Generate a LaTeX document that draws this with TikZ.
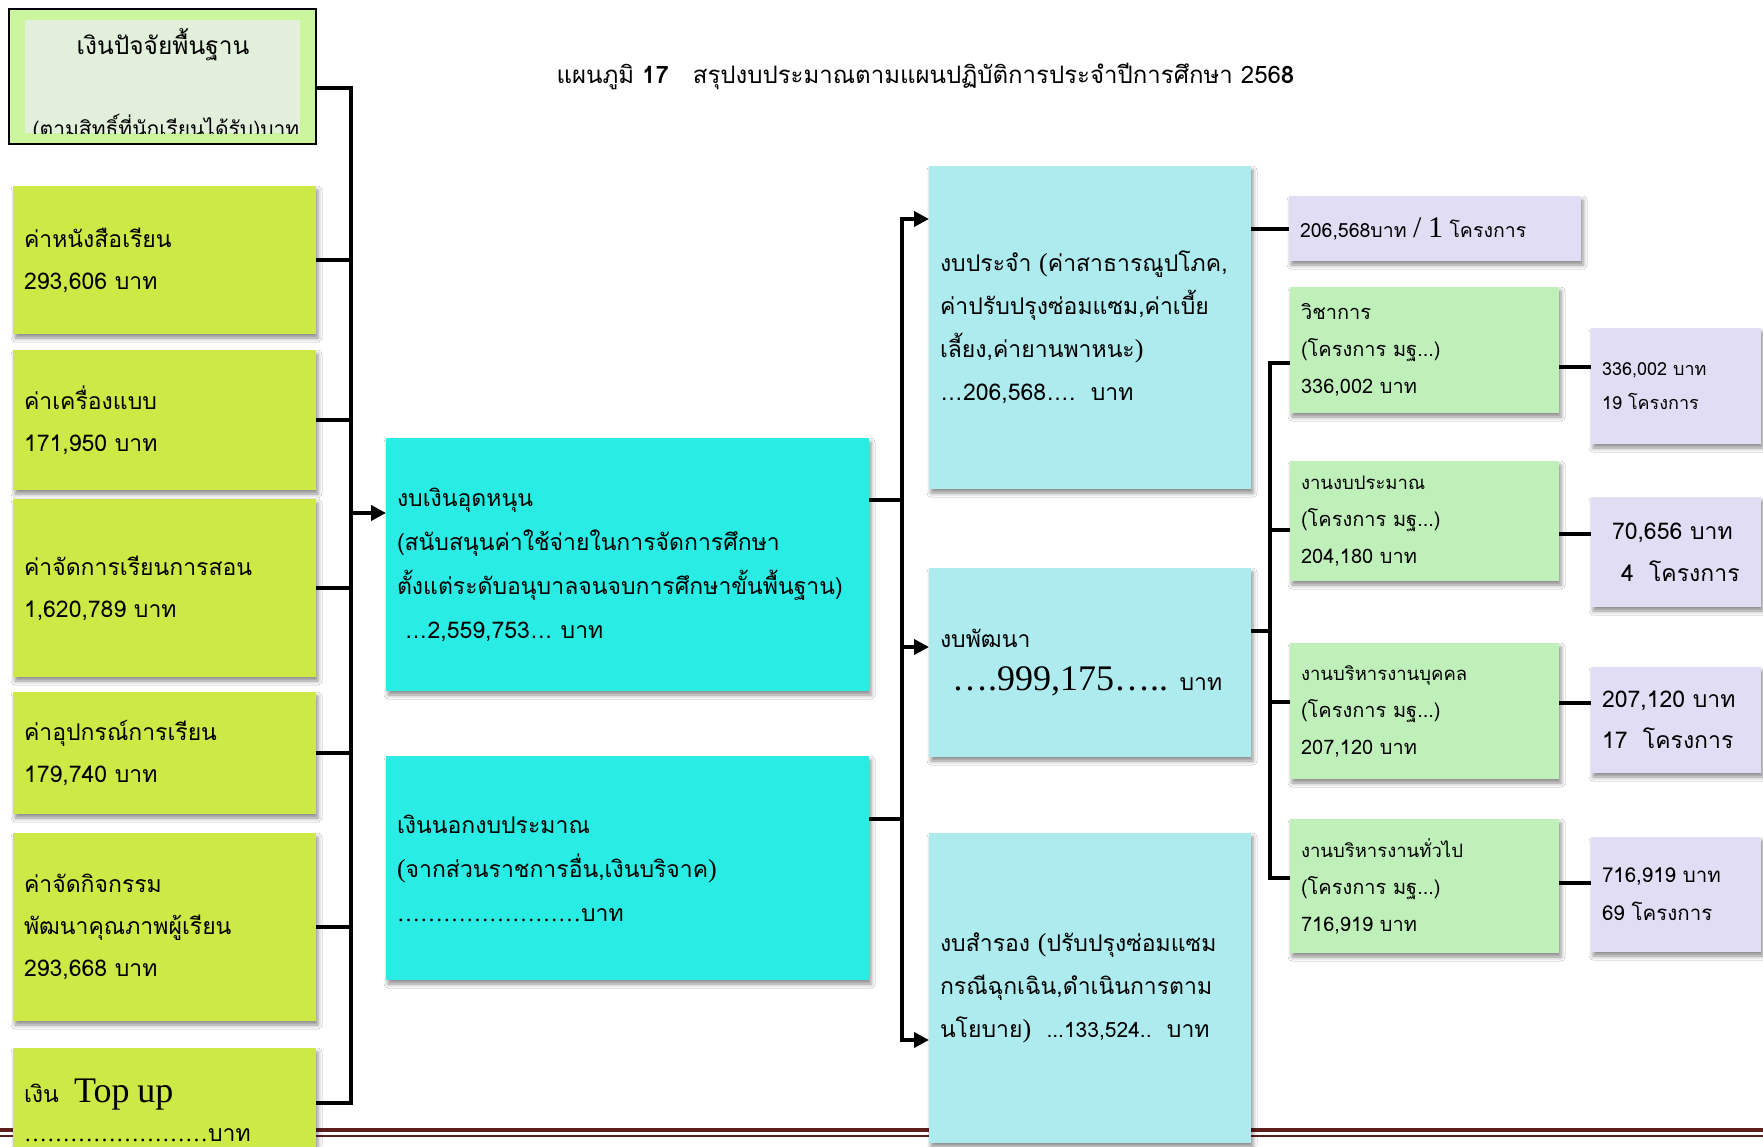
\documentclass[tikz,border=0pt]{standalone}
\usepackage{fontspec}
\setmainfont{Loma}[Script=Thai]
\newfontfamily\serif{Liberation Serif}
\newfontfamily\lsans{Liberation Sans}
\usetikzlibrary{arrows.meta,shadows.blur}
\definecolor{lime}{RGB}{205,233,70}
\definecolor{topouter}{RGB}{204,246,158}
\definecolor{topinner}{RGB}{226,239,218}
\definecolor{cyanA}{RGB}{41,237,228}
\definecolor{cyanB}{RGB}{173,235,238}
\definecolor{greenB}{RGB}{192,240,185}
\definecolor{purpB}{RGB}{225,221,244}
\definecolor{maroonL}{RGB}{94,30,30}
\tikzset{
  box/.style={rectangle, anchor=north west, inner xsep=11pt, inner ysep=0pt,
    outer sep=0pt, align=left,
    blur shadow={shadow xshift=2pt, shadow yshift=-4pt, shadow blur radius=4pt, shadow opacity=45}},
  lbox/.style={box, fill=lime, font=\fontsize{23}{42}\selectfont},
  cbox/.style={box, fill=cyanA, font=\fontsize{23}{44}\selectfont},
  rbox/.style={box, fill=cyanB, font=\fontsize{23}{43}\selectfont},
  gbox/.style={box, fill=greenB, font=\fontsize{20}{37}\selectfont},
  pbox/.style={box, fill=purpB},
  con/.style={line width=4pt, black},
  arr/.style={con, -{Triangle[length=15pt,width=15pt]}},
}
\begin{document}
\begin{tikzpicture}[x=1pt,y=-1pt]
\useasboundingbox (0,0) rectangle (1763,1146);
\fill[white] (0,0) rectangle (1763,1146);
% bottom rule
\draw[maroonL, line width=4.5pt] (0,1130) -- (1763,1130);
\draw[maroonL, line width=1.5pt] (0,1136) -- (1763,1136);
% title
\node[anchor=west, font=\fontsize{24}{28}\selectfont] (title) at (553,76)
  {แผนภูมิ \textbf{17}\hspace{24pt}สรุปงบประมาณตามแผนปฏิบัติการประจำปีการศึกษา 256\textbf{8}};
% top box
\node[rectangle, anchor=north west, draw=black, line width=2pt, fill=topouter,
  minimum width=307pt, minimum height=135pt, outer sep=0pt] (top) at (9,9) {};
\node[rectangle, anchor=north west, fill=topinner, inner sep=0pt,
  minimum width=275pt, minimum height=113pt, outer sep=0pt] (topin) at (25,20) {};
\node[font=\fontsize{24.5}{30}\selectfont] (topt1) at (163,45) {เงินปัจจัยพื้นฐาน};
\begin{scope}
\clip (25,20) rectangle (300,133);
\node[anchor=base, font=\fontsize{21}{26}\selectfont] (topt2) at (166,136) {(ตามสิทธิ์ที่นักเรียนได้รับ)บาท};
\end{scope}
% left column
\node[lbox, minimum width=303pt, minimum height=148pt, text width=281pt] (L1) at (13,186) {ค่าหนังสือเรียน\\293,606 บาท};
\node[lbox, minimum width=303pt, minimum height=140pt, text width=281pt] (L2) at (13,350) {ค่าเครื่องแบบ\\171,950 บาท};
\node[lbox, minimum width=303pt, minimum height=178pt, text width=281pt] (L3) at (13,499) {ค่าจัดการเรียนการสอน\\1,620,789 บาท};
\node[lbox, minimum width=303pt, minimum height=122pt, text width=281pt] (L4) at (13,692) {ค่าอุปกรณ์การเรียน\\179,740 บาท};
\node[lbox, minimum width=303pt, minimum height=188pt, text width=281pt] (L5) at (13,833) {ค่าจัดกิจกรรม\\พัฒนาคุณภาพผู้เรียน\\293,668 บาท};
\node[lbox, minimum width=303pt, minimum height=124pt, text width=281pt] (L6) at (13,1048) {เงิน\ \ {\serif\fontsize{36}{40}\selectfont Top up}\\[-3pt]{\serif\fontsize{23}{40}\selectfont ……………………}บาท};
% cyan boxes
\node[cbox, minimum width=483pt, minimum height=253pt, text width=461pt] (C1) at (386,438)
  {งบเงินอุดหนุน\\(สนับสนุนค่าใช้จ่ายในการจัดการศึกษา\\ตั้งแต่ระดับอนุบาลจนจบการศึกษาขั้นพื้นฐาน)\\\ {\lsans …}2,559,753{\lsans …} บาท};
\node[cbox, minimum width=483pt, minimum height=224pt, text width=461pt] (C2) at (386,756)
  {เงินนอกงบประมาณ\\{\serif\fontsize{26}{44}\selectfont (}จากส่วนราชการอื่น,เงินบริจาค{\serif\fontsize{26}{44}\selectfont )}\\{\serif\fontsize{23}{44}\selectfont ……………………}บาท};
% right light-cyan boxes
\node[rbox, minimum width=322pt, minimum height=323pt, text width=300pt] (R1) at (929,166)
  {\mbox{งบประจำ {\serif\fontsize{26}{43}\selectfont (}ค่าสาธารณูปโภค,}\\ค่าปรับปรุงซ่อมแซม,ค่าเบี้ย\\เลี้ยง,ค่ายานพาหนะ{\serif\fontsize{26}{43}\selectfont )}\\{\lsans …}206,568{\lsans …}.\ \ บาท};
\node[rbox, minimum width=322pt, minimum height=189pt, text width=300pt] (R2) at (929,568)
  {งบพัฒนา\\\hspace*{12pt}{\serif\fontsize{36}{44}\selectfont ….999,175…..} บาท};
\node[rbox, minimum width=322pt, minimum height=310pt, text width=300pt] (R3) at (929,833)
  {งบสำรอง {\serif\fontsize{26}{43}\selectfont (}ปรับปรุงซ่อมแซม\\กรณีฉุกเฉิน,ดำเนินการตาม\\\mbox{นโยบาย{\serif\fontsize{26}{43}\selectfont )}\ \ {\fontsize{21}{43}\selectfont ...133,524..}\ \ บาท}};
% purple top
\node[pbox, minimum width=292pt, minimum height=65pt, text width=270pt, font=\fontsize{19.5}{30}\selectfont] (P0) at (1289,196)
  {206,568บาท {\serif\fontsize{30}{30}\selectfont / 1} โครงการ};
% green boxes
\node[gbox, minimum width=269pt, minimum height=126pt, text width=247pt] (G1) at (1290,287) {วิชาการ\\(โครงการ มฐ...)\\336,002 บาท};
\node[gbox, minimum width=269pt, minimum height=120pt, text width=247pt] (G2) at (1290,461) {{\fontsize{18.5}{37}\selectfont งานงบประมาณ}\\(โครงการ มฐ...)\\204,180 บาท};
\node[gbox, minimum width=269pt, minimum height=136pt, text width=247pt] (G3) at (1290,643) {{\fontsize{18.5}{37}\selectfont งานบริหารงานบุคคล}\\(โครงการ มฐ...)\\207,120 บาท};
\node[gbox, minimum width=269pt, minimum height=134pt, text width=247pt] (G4) at (1290,819) {{\fontsize{18.5}{37}\selectfont งานบริหารงานทั่วไป}\\(โครงการ มฐ...)\\716,919 บาท};
% purple right boxes
\node[pbox, minimum width=170pt, minimum height=116pt, text width=148pt, font=\fontsize{18}{34}\selectfont] (Q1) at (1591,328) {336,002 บาท\\19 โครงการ};
\node[pbox, minimum width=170pt, minimum height=110pt, text width=148pt, font=\fontsize{23}{42}\selectfont] (Q2) at (1591,497) {\mbox{\hspace*{10pt}70,656 บาท}\\\mbox{\hspace*{19pt}4\ \ โครงการ}};
\node[pbox, minimum width=170pt, minimum height=106pt, text width=148pt, font=\fontsize{23}{41}\selectfont] (Q3) at (1591,667) {207,120 บาท\\17\ \ โครงการ};
\node[pbox, minimum width=170pt, minimum height=115pt, text width=148pt, font=\fontsize{20.5}{38}\selectfont] (Q4) at (1591,837) {716,919 บาท\\69 โครงการ};
% left bus
\coordinate (busT) at (351,88);
\coordinate (busB) at (351,1103);
\coordinate (busA) at (351,513);
\draw[con] (top.east |- busT) -- (busT) -- (busB) -- (busB -| L6.east);
\foreach \n in {L1,L2,L3,L4,L5} \draw[con] (\n.east) -- (\n.east -| busT);
\draw[arr] (busA) -- (busA -| C1.west);
% middle bus
\coordinate (mT) at (902,219);
\coordinate (mB) at (902,1040);
\coordinate (m1) at (902,500);
\coordinate (m2) at (902,819);
\coordinate (m3) at (902,647);
\draw[con, shorten <=-2pt, shorten >=-2pt] (mT) -- (mB);
\draw[con] (m1 -| C1.east) -- (m1);
\draw[con] (m2 -| C2.east) -- (m2);
\draw[arr] (mT) -- (mT -| R1.west);
\draw[arr] (m3) -- (m3 -| R2.west);
\draw[arr] (mB) -- (mB -| R3.west);
% R1 to P0
\draw[con] (R1.east |- P0.west) -- (P0.west);
% bracket
\coordinate (brT) at (1270,363);
\coordinate (brB) at (1270,878);
\coordinate (brM) at (1270,631);
\coordinate (br2) at (1270,530);
\coordinate (br3) at (1270,702);
\draw[con] (brM -| R2.east) -- (brM);
\draw[con] (brT -| G1.west) -- (brT) -- (brB) -- (brB -| G4.west);
\draw[con] (br2) -- (br2 -| G2.west);
\draw[con] (br3) -- (br3 -| G3.west);
% green to purple
\coordinate (k1) at (1575,367);
\coordinate (k2) at (1575,534);
\coordinate (k3) at (1575,703);
\coordinate (k4) at (1575,883);
\draw[con] (k1 -| G1.east) -- (k1 -| Q1.west);
\draw[con] (k2 -| G2.east) -- (k2 -| Q2.west);
\draw[con] (k3 -| G3.east) -- (k3 -| Q3.west);
\draw[con] (k4 -| G4.east) -- (k4 -| Q4.west);
\end{tikzpicture}
\end{document}
